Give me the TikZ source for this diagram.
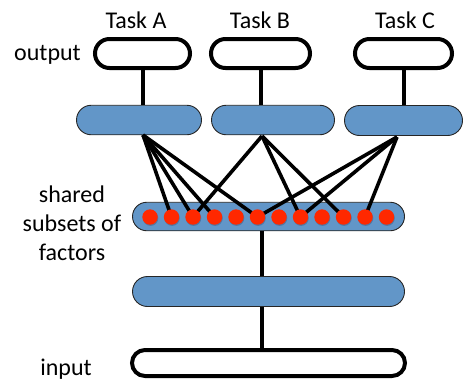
\documentclass[tikz,border=0pt]{standalone}
\usepackage{fontspec}
\setmainfont{Carlito}
\usetikzlibrary{shapes.misc,calc}
\definecolor{boxblue}{RGB}{98,150,200}
\definecolor{dotred}{RGB}{255,40,0}
\definecolor{dotshadow}{RGB}{70,100,140}
\begin{document}
\begin{tikzpicture}[x=1pt,y=-1pt,
  lbl/.style={font=\fontsize{24}{29}\selectfont, inner sep=0pt},
  outbox/.style={rounded rectangle, draw=black, line width=4pt, fill=white, inner sep=0pt},
  bluebox/.style={rounded rectangle, draw=black!85, line width=0.9pt, fill=boxblue, inner sep=0pt},
  factor/.style={circle, fill=dotred, inner sep=0pt, minimum size=15.4pt},
  link/.style={line width=4pt},
  fan/.style={line width=3.6pt}]
\useasboundingbox (0,0) rectangle (466,381);
% labels
\node[lbl, anchor=base] (tA) at (136,28) {Task A};
\node[lbl, anchor=base] (tB) at (260,28) {Task B};
\node[lbl, anchor=base] (tC) at (405,28) {Task C};
\node[lbl, anchor=base] (lout) at (47.5,60) {output};
\node[lbl, anchor=base] (lin) at (66,375) {input};
\node[lbl, align=center] (lsh) at (72,223.5) {shared\\subsets of\\factors};
% output boxes
\node[outbox, minimum width=95pt, minimum height=29pt] (oA) at (142.5,53.5) {};
\node[outbox, minimum width=99pt, minimum height=29pt] (oB) at (260.5,53.5) {};
\node[outbox, minimum width=97pt, minimum height=29pt] (oC) at (403.5,53.5) {};
% task hidden boxes
\node[bluebox, minimum width=125pt, minimum height=29.5pt] (hA) at (139,120) {};
\node[bluebox, minimum width=123pt, minimum height=29.5pt] (hB) at (273,120) {};
\node[bluebox, minimum width=118pt, minimum height=30pt] (hC) at (403.5,120.5) {};
% shared, lower, input
\node[bluebox, minimum width=272pt, minimum height=28.5pt] (sh) at (268.5,216.5) {};
\node[bluebox, minimum width=272pt, minimum height=30pt] (lo) at (268.5,291.5) {};
\node[outbox, minimum width=273pt, minimum height=26pt] (inp) at (268.5,363) {};
% vertical connectors
\draw[link] (oA.south) -- (oA.south |- hA.north);
\draw[link] (oB.south) -- (oB.south |- hB.north);
\draw[link] (oC.south) -- (oC.south |- hC.north);
\coordinate (pA) at (143,135);
\coordinate (pB) at (262,136);
\coordinate (pC) at (397,137);
\draw[link] (sh.south -| pB) -- (lo.north -| pB);
\draw[link] (lo.south -| pB) -- (inp.north -| pB);
% factor positions
\foreach \i in {1,...,12} {
  \coordinate (d\i) at ({150+21.5*(\i-1)},217);
}
% fan connectors
\foreach \j in {2,3,4,6} { \draw[fan] (pA) -- (d\j); }
\foreach \j in {3,8,10} { \draw[fan] (pB) -- (d\j); }
\foreach \j in {6,8,11} { \draw[fan] (pC) -- (d\j); }
% factor dots
\foreach \i in {1,...,12} {
  \fill[dotshadow, opacity=0.6] ($(d\i)+(0.6,1.2)$) circle (7.7pt);
  \node[factor] (f\i) at (d\i) {};
}
\end{tikzpicture}
\end{document}
